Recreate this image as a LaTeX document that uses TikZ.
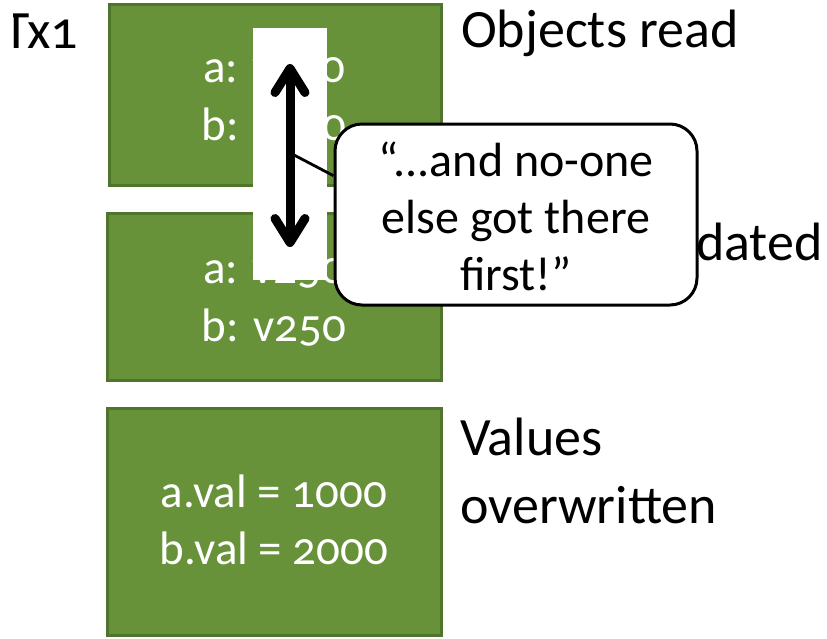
\documentclass[tikz,border=0pt]{standalone}
\usepackage{fontspec}
\setmainfont{Carlito}[Numbers=OldStyle]
\usetikzlibrary{arrows.meta}
\definecolor{boxgreen}{HTML}{67923A}
\definecolor{boxedge}{HTML}{4F742B}
\begin{document}
\begin{tikzpicture}[x=1pt,y=-1pt,
  gbox/.style={draw=boxedge, line width=3pt, fill=boxgreen, inner sep=0pt},
  btext/.style={text=white, font=\fontsize{47}{57}\selectfont, anchor=base, inner sep=0pt},
  label/.style={text=black, font=\fontsize{54}{62}\selectfont, anchor=base west, inner sep=0pt},
  ctext/.style={text=black, font=\fontsize{48}{57}\selectfont, align=center, inner sep=0pt}]
\useasboundingbox (0,0) rectangle (827,638);
% green boxes
\node[gbox, minimum width=332pt, minimum height=181pt] (b1) at (275,94.5) {};
\node[gbox, minimum width=334pt, minimum height=167pt] (b2) at (274,296.5) {};
\node[gbox, minimum width=334pt, minimum height=227pt] (b3) at (274,521.5) {};
% box texts
\node[btext] (b1a) at (274,82) {a: v250};
\node[btext] (b1b) at (274,140) {b: v250};
\node[btext] (b2a) at (274,283) {a: v250};
\node[btext] (b2b) at (274,341) {b: v250};
\node[btext] (b3a) at (274,507) {a.val = 1000};
\node[btext] (b3b) at (274,564) {b.val = 2000};
% labels
\begin{scope}
\clip (13,0) rectangle (120,80);
\node[label, anchor=base east] (tx) at (78,48) {Tx1};
\end{scope}
\node[label] (l1) at (461,47) {Objects read};
\node[label] (l2) at (461,260) {Objects updated};
\node[label] (l3) at (460,455) {Values};
\node[label] (l4) at (460,523) {overwritten};
% white strip with arrow
\node[fill=white, inner sep=0pt, minimum width=74pt, minimum height=252pt] (strip) at (290,154) {};
\coordinate (atop) at (290,64);
\coordinate (abot) at (290,247);
\draw[line width=9pt, {Straight Barb[length=24pt,width=30pt,round]}-{Straight Barb[length=24pt,width=30pt,round]}] (atop) -- (abot);
% callout
\coordinate (cpt) at (294,155);
\node[draw=black, line width=3pt, fill=white, rounded corners=27pt, minimum width=362pt, minimum height=181pt, inner sep=0pt] (callout) at (516,214.5) {};
\draw[line width=2.8pt] (cpt) -- (callout.168);
\node[ctext] (ctxt) at (516,216) {“...and no-one\\else got there\\first!”};
\end{tikzpicture}
\end{document}
